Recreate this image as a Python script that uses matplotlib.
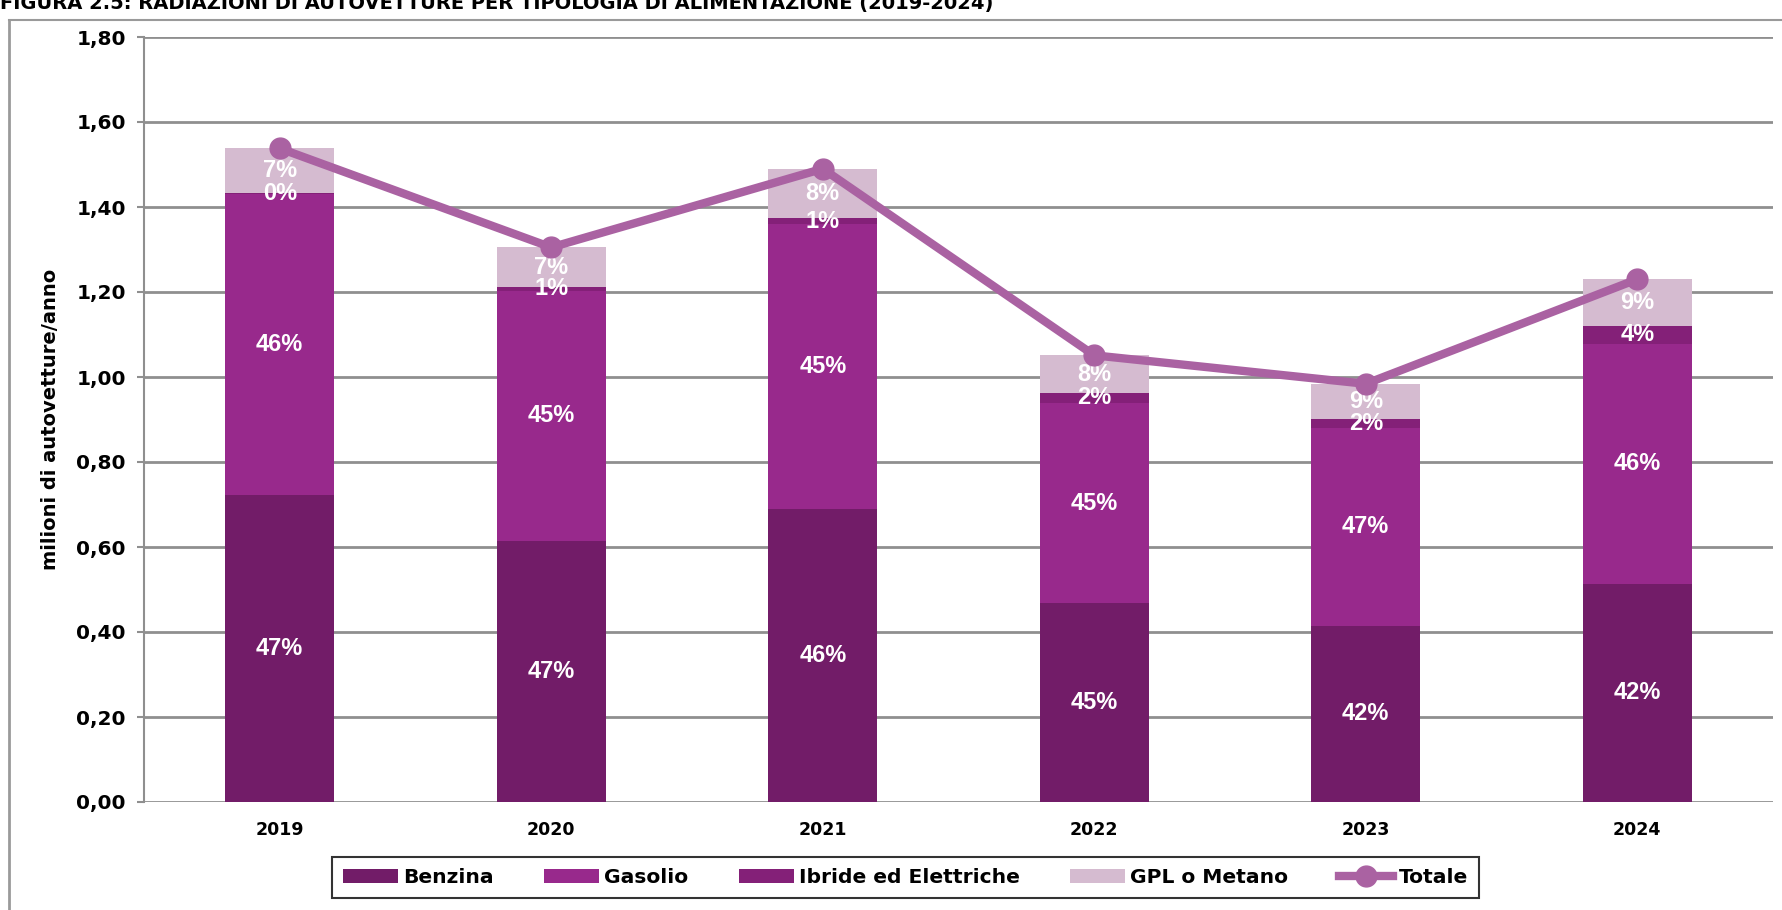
import numpy as np
import matplotlib
matplotlib.use('Agg')
import matplotlib.pyplot as plt
from matplotlib.lines import Line2D

# Data (millions of cars per year)
anni = ['2019', '2020', '2021', '2022', '2023', '2024']
benzina = [0.722, 0.615, 0.690, 0.468, 0.415, 0.514]
gasolio = [0.709, 0.588, 0.669, 0.471, 0.465, 0.564]
ibride = [0.003, 0.009, 0.016, 0.024, 0.021, 0.043]
gpl_metano = [0.106, 0.093, 0.115, 0.088, 0.083, 0.109]
totale = [1.538, 1.305, 1.490, 1.051, 0.984, 1.230]

# percent labels as printed in the bars
benzina_pct = ['47%', '47%', '46%', '45%', '42%', '42%']
gasolio_pct = ['46%', '45%', '45%', '45%', '47%', '46%']
ibride_pct = ['0%', '1%', '1%', '2%', '2%', '4%']
gpl_pct = ['7%', '7%', '8%', '8%', '9%', '9%']

y_ticks = [0.0, 0.2, 0.4, 0.6, 0.8, 1.0, 1.2, 1.4, 1.6, 1.8]

col_benz = '#721C68'
col_gas = '#98298C'
col_ibr = '#842078'
col_gpl = '#D5BBD0'
col_tot = '#AA62A2'
col_grid = '#8F8F8F'

fig = plt.figure(figsize=(17.82, 9.10), dpi=100)
ax = fig.add_axes([144 / 1782, 1 - 802 / 910, (1773 - 144) / 1782, (802 - 37) / 910])

x = np.arange(len(anni))
w = 0.4
b1 = np.array(benzina)
b2 = b1 + np.array(gasolio)
b3 = b2 + np.array(ibride)

h1 = ax.bar(x, benzina, w, color=col_benz, zorder=2)
h2 = ax.bar(x, gasolio, w, bottom=b1, color=col_gas, zorder=2)
h3 = ax.bar(x, ibride, w, bottom=b2, color=col_ibr, zorder=2)
h4 = ax.bar(x, gpl_metano, w, bottom=b3, color=col_gpl, zorder=2)
h5, = ax.plot(x, totale, color=col_tot, lw=6, marker='o', markersize=15, zorder=4)

# percentage labels centred in each segment
lab_kw = dict(ha='center', va='center', color='white', fontsize=17,
              fontweight='bold', family='Liberation Sans', zorder=3)
for i in range(len(anni)):
    ax.text(x[i], benzina[i] / 2, benzina_pct[i], **lab_kw)
    ax.text(x[i], b1[i] + gasolio[i] / 2, gasolio_pct[i], **lab_kw)
    ax.text(x[i], b2[i] + ibride[i] / 2, ibride_pct[i], **lab_kw)
    ax.text(x[i], b3[i] + gpl_metano[i] / 2, gpl_pct[i], **lab_kw)

ax.set_xlim(-0.5, len(anni) - 0.5)
ax.set_ylim(0, 1.8)
ax.set_yticks(y_ticks)
ax.set_yticklabels([f'{v:.2f}'.replace('.', ',') for v in y_ticks],
                   fontsize=14.5, fontweight='bold', family='DejaVu Sans')
ax.set_xticks(x)
ax.set_xticklabels(anni, fontsize=12.5, fontweight='bold', family='DejaVu Sans')
ax.tick_params(axis='x', length=0, pad=14)
ax.tick_params(axis='y', length=5, width=1.5, color=col_grid, pad=8)
ax.yaxis.grid(True, color=col_grid, lw=2, zorder=0)
ax.set_axisbelow(True)
for s in ['top', 'right', 'bottom']:
    ax.spines[s].set_visible(False)
ax.spines['left'].set_color(col_grid)
ax.spines['left'].set_linewidth(1.5)

ax.set_ylabel('milioni di autovetture/anno', fontsize=14, fontweight='bold',
              family='DejaVu Sans')
ax.yaxis.set_label_coords((60 - 144) / 1629, 0.5)

leg = fig.legend([h1, h2, h3, h4, h5],
                 ['Benzina', 'Gasolio', 'Ibride ed Elettriche', 'GPL o Metano', 'Totale'],
                 loc='center', bbox_to_anchor=(0.5081, 1 - 877.5 / 910), ncol=5,
                 frameon=True, fancybox=False, edgecolor='black',
                 prop={'family': 'DejaVu Sans', 'weight': 'bold', 'size': 14.6},
                 handlelength=2.7, handleheight=0.65, columnspacing=2.5,
                 handletextpad=0.25, borderpad=0.55, borderaxespad=0)
leg.get_frame().set_linewidth(1.5)

# outer frame and clipped title at the top
fig.add_artist(Line2D([9 / 1782, 9 / 1782], [0, 1 - 20 / 910], color='#9A9A9A', lw=2))
fig.add_artist(Line2D([9 / 1782, 1], [1 - 20 / 910, 1 - 20 / 910], color='#9A9A9A', lw=1.5))
fig.text(0.0, 1 - 9 / 910, 'FIGURA 2.5: RADIAZIONI DI AUTOVETTURE PER TIPOLOGIA DI ALIMENTAZIONE (2019-2024)',
         ha='left', va='baseline', fontsize=14, fontweight='bold', family='DejaVu Sans')

fig.savefig('out.png', dpi=100)
